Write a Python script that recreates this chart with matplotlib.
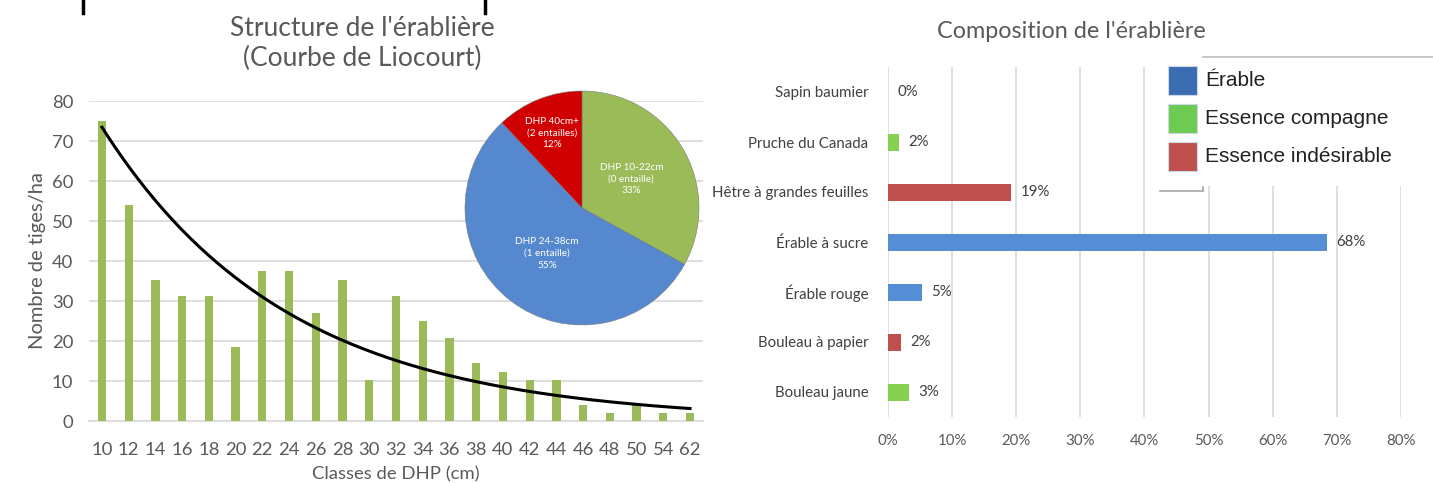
import numpy as np
import matplotlib
matplotlib.use("Agg")
import matplotlib.pyplot as plt
from matplotlib.lines import Line2D
from matplotlib.patches import Rectangle

# ---------------- data ----------------
dhp_classes = ["10", "12", "14", "16", "18", "20", "22", "24", "26", "28", "30", "32",
               "34", "36", "38", "40", "42", "44", "46", "48", "50", "54", "62"]
tiges_ha = [75, 54, 35.3, 31.2, 31.2, 18.6, 37.4, 37.4, 27.0, 35.3, 10.3, 31.2,
            25.0, 20.7, 14.5, 12.3, 10.25, 10.25, 4, 2, 4, 2, 2]

pie_labels = ["DHP 10-22cm\n(0 entaille)", "DHP 24-38cm\n(1 entaille)", "DHP 40cm+\n(2 entailles)"]
pie_values = [33, 55, 12]

especes = ["Sapin baumier", "Pruche du Canada", "Hêtre à grandes feuilles", "Érable à sucre",
           "Érable rouge", "Bouleau à papier", "Bouleau jaune"]
composition = [0, 1.7, 19.2, 68.4, 5.3, 2.0, 3.3]
groupe = ["Essence compagne", "Essence compagne", "Essence indésirable", "Érable",
          "Érable", "Essence indésirable", "Essence compagne"]
legend_groups = ["Érable", "Essence compagne", "Essence indésirable"]

# ---------------- style ----------------
W, H = 1433, 483
DPI = 100
FONT = "Lato"
GRID = "#D9D9D9"
TXT = "#595959"
BAR_GREEN = "#9BBB59"
PIE_COLORS = ["#9BBB59", "#5588CF", "#D00000"]
GROUP_COLORS = {"Érable": "#558ED5", "Essence compagne": "#88D050", "Essence indésirable": "#C0504D"}
LEGEND_COLORS = {"Érable": "#3B6DB3", "Essence compagne": "#6CCB50", "Essence indésirable": "#C0504D"}

fig = plt.figure(figsize=(W / DPI, H / DPI), dpi=DPI)


def box(l, t, r, b):
    return [l / W, 1 - b / H, (r - l) / W, (b - t) / H]


# ---------------- left: bar chart ----------------
ax = fig.add_axes(box(88.6, 101, 703.4, 421))
x = np.arange(len(dhp_classes))
ax.bar(x, tiges_ha, width=0.31, color=BAR_GREEN, zorder=3)

# exponential trendline fitted on the data (as Excel does)
xi = x + 1
b, a = np.polyfit(xi, np.log(tiges_ha), 1)
xs = np.linspace(xi[0], xi[-1], 200)
ax.plot(xs - 1, np.exp(a) * np.exp(b * xs), color="black", lw=2.2, zorder=4)

ax.set_xlim(-0.5, len(dhp_classes) - 0.5)
ax.set_ylim(0, 80)
ax.set_yticks(range(0, 81, 10))
ax.set_xticks(x)
ax.set_xticklabels(dhp_classes)
ax.yaxis.grid(True, color=GRID, lw=1.2, zorder=0)
ax.set_axisbelow(True)
for s in ["top", "right", "left"]:
    ax.spines[s].set_visible(False)
ax.spines["bottom"].set_color(GRID)
ax.spines["bottom"].set_linewidth(1.2)
ax.tick_params(axis="both", length=0, colors=TXT, labelsize=13.3)
ax.tick_params(axis="x", pad=15)
ax.tick_params(axis="y", pad=11)
for lab in ax.get_xticklabels() + ax.get_yticklabels():
    lab.set_fontfamily(FONT)
ax.set_ylabel("Nombre de tiges/ha", fontsize=14.5, color=TXT, family=FONT, labelpad=4)
ax.set_xlabel("Classes de DHP (cm)", fontsize=13.3, color=TXT, family=FONT, labelpad=6)
fig.text(362 / W, 1 - 43.5 / H, "Structure de l'érablière\n(Courbe de Liocourt)",
         ha="center", va="center", fontsize=19, color=TXT, family=FONT, linespacing=1.2)

# ---------------- pie inset ----------------
L, T, R, B = 462, 88, 706, 330
cx, cy, rad = 582, 208, 117
axp = fig.add_axes(box(L, T, R, B))
axp.set_facecolor("white")
wedges, _ = axp.pie(pie_values, colors=PIE_COLORS, startangle=90, counterclock=False,
                    radius=1, wedgeprops=dict(edgecolor="#7a7a7a", linewidth=0.4))
axp.set_aspect("auto")
axp.set_xlim((L - cx) / rad, (R - cx) / rad)
axp.set_ylim(-(B - cy) / rad, (cy - T) / rad)
axp.axis("on")
axp.set_xticks([])
axp.set_yticks([])
for s in axp.spines.values():
    s.set_visible(False)
label_r = [0.49, 0.49, 0.69]
for w, lab, v, r in zip(wedges, pie_labels, pie_values, label_r):
    th = np.deg2rad((w.theta1 + w.theta2) / 2)
    axp.text(r * np.cos(th), r * np.sin(th), f"{lab}\n{v}%", ha="center", va="center",
             color="white", fontsize=7.2, family=FONT, linespacing=1.4)

# ---------------- right: horizontal bars ----------------
axr = fig.add_axes(box(888, 67, 1401, 417))
yy = np.arange(len(especes))
cols = [GROUP_COLORS[g] for g in groupe]
axr.barh(yy, composition, height=0.34, color=cols, zorder=3)
axr.set_ylim(len(especes) - 0.5, -0.5)
axr.set_xlim(0, 80)
axr.set_xticks(range(0, 81, 10))
axr.set_xticklabels([f"{v}%" for v in range(0, 81, 10)])
axr.set_yticks(yy)
axr.set_yticklabels(especes)
axr.xaxis.grid(True, color=GRID, lw=1.2, zorder=0)
for s in axr.spines.values():
    s.set_visible(False)
axr.tick_params(axis="both", length=0, colors=TXT, labelsize=10.8)
axr.tick_params(axis="y", pad=14, colors="#404040")
axr.tick_params(axis="x", pad=12)
for lab in axr.get_xticklabels() + axr.get_yticklabels():
    lab.set_fontfamily(FONT)
for yv, v in zip(yy, composition):
    axr.text(v + 1.5, yv, f"{v:.0f}%", ha="left", va="center", fontsize=10.8,
             color="#404040", family=FONT)
fig.text(1071 / W, 1 - 32 / H, "Composition de l'érablière", ha="center", va="center",
         fontsize=16.8, color=TXT, family=FONT)

# ---------------- pasted legend ----------------
axl = fig.add_axes(box(1160, 58, W, 186))
axl.set_xlim(1160, W)
axl.set_ylim(186, 58)
axl.set_facecolor("white")
axl.set_xticks([])
axl.set_yticks([])
for s in axl.spines.values():
    s.set_visible(False)
for i, g in enumerate(legend_groups):
    top = 66 + i * 38
    axl.add_patch(Rectangle((1168, top), 29, 29, facecolor=LEGEND_COLORS[g],
                            edgecolor="#cfd8e6", lw=0.8))
    axl.text(1205, top + 14, g, ha="left", va="center", fontsize=15,
             family="Liberation Sans", color="#222222")

# frame fragments of the pasted legend
fig.add_artist(Line2D([1203 / W, 1], [1 - 57 / H] * 2, color="#BFBFBF", lw=1.2))
fig.add_artist(Line2D([1160 / W, 1203 / W], [1 - 191 / H] * 2, color="#A6A6A6", lw=1.2))
fig.add_artist(Line2D([1203 / W, 1203 / W], [1 - 187 / H, 1 - 191 / H], color="#A6A6A6", lw=1.2))

# descenders of cropped heading text at the very top
for xp in (83, 485):
    fig.add_artist(Line2D([xp / W] * 2, [1, 1 - 13 / H], color="black", lw=2.5))

fig.savefig("out.png", dpi=DPI, facecolor="white")
